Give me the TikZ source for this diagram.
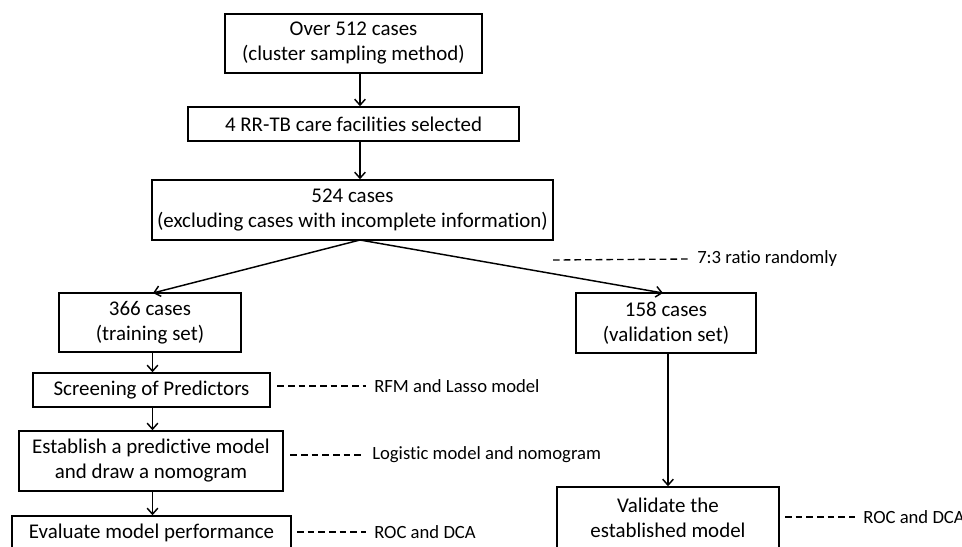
\documentclass[tikz,border=0pt]{standalone}
\usepackage{fontspec}
\setmainfont{Carlito}[Ligatures=CommonOff]
\usetikzlibrary{arrows.meta,calc}
\tikzset{
  box/.style={draw=black, line width=1.1pt, rectangle, align=center, inner sep=0pt,
    font=\fontsize{15.7}{18.75}\selectfont},
  lab/.style={anchor=west, inner xsep=6pt, inner ysep=0pt, font=\fontsize{14}{17}\selectfont},
  arr/.style={line width=1.1pt, -{Straight Barb[length=4.5pt,width=8pt,line width=1.1pt]}},
  dsh/.style={line width=1pt, dash pattern=on 5pt off 3pt}
}
\begin{document}
\begin{tikzpicture}[x=0.75pt,y=-0.75pt]
\useasboundingbox (0,0) rectangle (962,546);
\fill[white] (0,0) rectangle (962,546);
\clip (0,0) rectangle (962,546);
% boxes
\node[box, minimum width=192.75pt, minimum height=44.25pt] (b1) at (353.5,43.5) {Over 512 cases\\(cluster sampling method)};
\node[box, minimum width=248.25pt, minimum height=25.5pt] (b2) at (353.5,124) {4 RR-TB care facilities selected};
\node[box, minimum width=300.75pt, minimum height=45pt] (b3) at (352.5,210) {524 cases\\(excluding cases with incomplete information)};
\node[box, minimum width=136.5pt, minimum height=44.25pt] (tr) at (150,322.5) {366 cases\\(training set)};
\node[box, minimum width=135pt, minimum height=45pt] (va) at (666,323) {158 cases\\(validation set)};
\node[box, minimum width=177.75pt, minimum height=25.5pt] (sc) at (151.5,390) {Screening of Predictors};
\node[box, minimum width=198pt, minimum height=45pt] (es) at (151,461) {Establish a predictive model\\and draw a nomogram};
\node[box, minimum width=209.25pt, minimum height=25.5pt] (ev) at (151.5,533) {Evaluate model performance};
\node[box, minimum width=166.5pt, minimum height=45.75pt] (vm) at (668,517.5) {Validate the\\established model};
% helper x positions for arrows
\coordinate (xa) at (360,0);
\coordinate (xl) at (152.5,0);
\coordinate (xr) at (668,0);
\coordinate (split) at (360,240);
\coordinate (tl) at (153,293);
\coordinate (tv) at (663,293);
% arrows
\draw[arr] (b1.south -| xa) -- (b2.north -| xa);
\draw[arr] (b2.south -| xa) -- (b3.north -| xa);
\draw[arr] (split) -- (tl);
\draw[arr] (split) -- (tv);
\draw[arr] (tr.south -| xl) -- (sc.north -| xl);
\draw[arr] (sc.south -| xl) -- (es.north -| xl);
\draw[arr] (es.south -| xl) -- (ev.north -| xl);
\draw[arr] (va.south -| xr) -- (vm.north -| xr);
% labels
\node[lab] (l1) at (689,259) {7:3 ratio randomly};
\coordinate (r0) at (553,260);
\draw[dsh] (r0) -- (l1.west);
\node[lab] (l2) at (366,386) {RFM and Lasso model};
\draw[dsh] ([xshift=5pt]sc.east |- l2.west) -- (l2.west);
\node[lab] (l3) at (364,455) {Logistic model and nomogram};
\draw[dsh] ([xshift=5pt]es.east |- l3.west) -- (l3.west);
\node[lab] (l4) at (366,532) {ROC and DCA};
\draw[dsh] ([xshift=4pt]ev.east |- l4.west) -- (l4.west);
\node[lab] (l5) at (855,517) {ROC and DCA};
\draw[dsh] ([xshift=4pt]vm.east |- l5.west) -- (l5.west);
\end{tikzpicture}
\end{document}
